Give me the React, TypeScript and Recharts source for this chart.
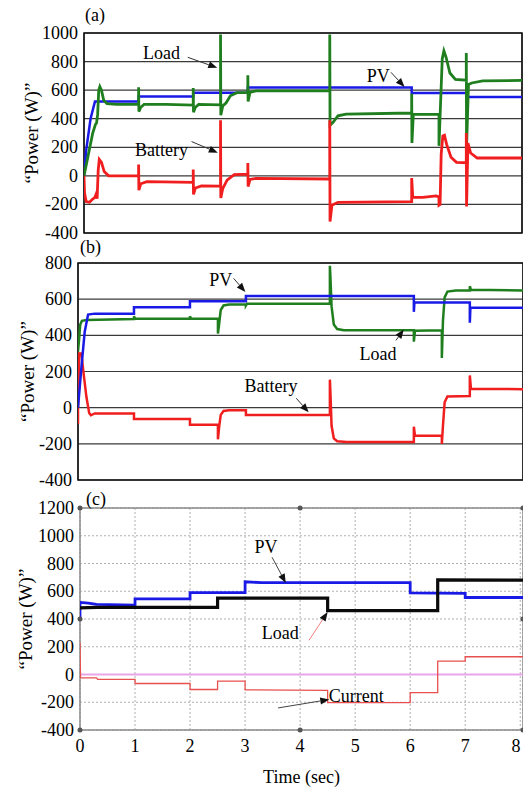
import { LineChart, Line, XAxis, YAxis, CartesianGrid, ReferenceLine, ReferenceDot, ReferenceArea } from 'recharts';

const FONT = '"Liberation Serif", "Times New Roman", serif';

type Pt = [number, number];

// ---- panel (a) ----
const pvA: Pt[] = [[0, 0], [0.04, 180], [0.12, 400], [0.2, 520], [1, 520], [1, 555], [2, 555], [2, 582], [3, 582], [3, 618], [6, 618], [6, 580], [7, 580], [7, 552], [8.02, 552]];
const loadA: Pt[] = [
  [0, 0], [0.08, 150], [0.16, 300], [0.21, 360], [0.23, 370], [0.25, 430], [0.27, 600], [0.29, 625], [0.32, 600], [0.36, 530], [0.42, 505], [0.6, 500],
  [1, 500], [1, 620], [1.005, 450], [1.04, 480], [1.1, 500], [1.5, 500],
  [2, 495], [2, 615], [2.005, 445], [2.04, 480], [2.1, 500],
  [2.5, 497], [2.5, 990], [2.505, 425], [2.54, 490], [2.6, 510], [2.68, 560], [2.8, 582],
  [3, 585], [3, 705], [3.005, 520], [3.04, 585], [3.15, 595],
  [4.5, 595], [4.5, 990], [4.505, 355], [4.56, 375], [4.65, 420], [4.8, 432],
  [6, 440], [6, 575], [6.005, 230], [6.03, 430],
  [6.5, 432], [6.5, 210], [6.53, 520], [6.56, 820], [6.59, 875], [6.63, 830], [6.7, 720], [6.8, 675],
  [7, 670], [7, 860], [7.005, 205], [7.04, 640], [7.1, 650], [7.3, 665], [8.02, 668],
];
const batteryA: Pt[] = [
  [0, 0], [0.01, -120], [0.04, -180], [0.1, -185], [0.15, -165], [0.2, -150], [0.22, -130], [0.24, -160], [0.26, 40], [0.28, 115], [0.32, 95], [0.37, 30], [0.45, 0],
  [1, 0], [1, 80], [1.005, -100], [1.04, -55], [1.15, -40],
  [2, -45], [2, 45], [2.005, -130], [2.04, -85], [2.15, -70],
  [2.5, -72], [2.5, 390], [2.505, -155], [2.54, -90], [2.62, -30], [2.75, 8],
  [3, 12], [3, 90], [3.005, -75], [3.04, -25], [3.15, -18],
  [4.5, -22], [4.5, 390], [4.505, -320], [4.54, -205], [4.65, -185],
  [6, -180], [6, -15], [6.02, -150], [6.2, -150], [6.45, -140],
  [6.5, -148], [6.5, -205], [6.52, -200], [6.54, 150], [6.57, 280], [6.6, 285], [6.64, 220], [6.72, 130], [6.82, 95],
  [7, 92], [7, 300], [7.005, -215], [7.03, 230], [7.08, 160], [7.2, 125], [8.02, 125],
];

// ---- panel (b) ----
const pvB: Pt[] = [[0, 0], [0.06, 220], [0.12, 420], [0.18, 515], [0.3, 520], [1, 520], [1, 555], [2, 555], [2, 588], [3, 588], [3, 618], [6, 618], [6, 530], [6.01, 582], [7, 582], [7, 470], [7.01, 552], [7.95, 552]];
const loadB: Pt[] = [
  [0, 310], [0.02, 380], [0.04, 460], [0.07, 480], [0.15, 485], [1, 490], [1, 505], [1.02, 492], [2, 492], [2, 505], [2.02, 492],
  [2.5, 492], [2.5, 410], [2.52, 460], [2.55, 540], [2.6, 565], [2.7, 570], [3, 572], [3, 565], [3.02, 575],
  [4.5, 575], [4.5, 785], [4.51, 720], [4.53, 560], [4.57, 460], [4.63, 435], [4.75, 428],
  [6, 428], [6, 365], [6.02, 425], [6.5, 428], [6.5, 275], [6.52, 480], [6.55, 610], [6.6, 642], [6.75, 648],
  [7, 648], [7, 672], [7.02, 652], [7.95, 648],
];
const batteryB: Pt[] = [
  [0, -90], [0, 0], [0.02, 300], [0.06, 300], [0.1, 190], [0.15, 60], [0.2, -30], [0.23, -42], [0.3, -32],
  [1, -32], [1, -62], [2, -62], [2, -95], [2.5, -95], [2.5, -175], [2.52, -110], [2.55, -40], [2.6, -18], [2.7, -14],
  [3, -14], [3, -40], [4.5, -40], [4.5, 155], [4.51, 80], [4.53, -100], [4.57, -170], [4.63, -186], [4.8, -190],
  [6, -190], [6, -105], [6.02, -155], [6.5, -155], [6.5, -200], [6.52, -100], [6.55, 30], [6.6, 62],
  [7, 65], [7, 178], [7.02, 105], [7.95, 102],
];

// ---- panel (c) ----
const pvC: Pt[] = [[0, 400], [0, 520], [0.15, 515], [0.3, 505], [1, 500], [1, 545], [2, 545], [2, 590], [3, 590], [3, 668], [3.3, 662], [6, 662], [6, 588], [7, 585], [7, 555], [8.05, 555]];
const loadC: Pt[] = [[0, 480], [0.3, 484], [2.5, 484], [2.5, 550], [4.5, 550], [4.5, 460], [6.5, 460], [6.5, 682], [8.05, 680]];
const currentC: Pt[] = [
  [0, 230], [0.01, -25], [0.3, -25], [0.32, -35], [1, -35], [1, -65], [2, -65], [2, -108], [2.5, -108], [2.5, -48],
  [3, -48], [3, -110], [4.5, -115], [4.5, -203], [6, -203], [6, -131], [6.5, -131], [6.5, 97], [7, 97], [7, 128], [8.05, 128],
];

const timeTicks = [0, 1, 2, 3, 4, 5, 6, 7, 8];
const ticksA = [-400, -200, 0, 200, 400, 600, 800, 1000];
const ticksB = [-400, -200, 0, 200, 400, 600, 800];
const ticksC = [-400, -200, 0, 200, 400, 600, 800, 1000, 1200];

// annotation text [label, t, value] and arrows [t1, v1, t2, v2]
const notesA: [string, number, number][] = [['Load', 1.42, 862], ['Battery', 1.42, 178], ['PV', 5.39, 697]];
const arrowsA: [number, number, number, number][] = [[1.9, 830, 2.44, 756], [1.97, 240, 2.45, 162], [5.62, 725, 5.87, 622]];
const notesB: [string, number, number][] = [['PV', 2.55, 706], ['Load', 5.36, 295], ['Battery', 3.45, 118]];
const arrowsB: [number, number, number, number][] = [[2.78, 715, 2.99, 640], [5.68, 372, 5.82, 432], [3.9, 52, 4.12, -26]];
const notesC: [string, number, number][] = [['PV', 3.38, 919], ['Load', 3.64, 299], ['Current', 5.02, -155]];
const arrowsC: [number, number, number, number][] = [[3.49, 845, 3.74, 660], [4.16, 246, 4.5, 450], [3.6, -241, 4.53, -180]];
const frameDotsC: Pt[] = [[0, 1200], [4, 1200], [8.05, 1200], [0, 400], [8.05, 400], [0, -400], [4, -400], [8.05, -400]];

const toData = (arr: Pt[]) => arr.map(([t, v]) => ({ t, v }));

const arrowShape = (lineColor: string) => (p: any) => {
  const { x1, y1, x2, y2 } = p;
  const a = Math.atan2(y2 - y1, x2 - x1);
  const L = 9, W = 3.5;
  const bx = x2 - L * Math.cos(a);
  const by = y2 - L * Math.sin(a);
  const pts = `${x2},${y2} ${bx - W * Math.sin(a)},${by + W * Math.cos(a)} ${bx + W * Math.sin(a)},${by - W * Math.cos(a)}`;
  return (
    <g>
      <line x1={x1} y1={y1} x2={bx} y2={by} stroke={lineColor} strokeWidth={1} />
      <polygon points={pts} fill="#111" />
    </g>
  );
};

const noteShape = (text: string) => (p: any) => (
  <text x={p.cx} y={p.cy} textAnchor="middle" dominantBaseline="central" fontSize={18} fontFamily={FONT} fill="#000">
    {text}
  </text>
);

const YTick = (p: any) => (
  <text x={p.x} y={p.y} textAnchor="end" dominantBaseline="central" fontSize={18} fontFamily={FONT} fill="#000">
    {p.payload.value}
  </text>
);

// keep the last label inside the picture
const XTick = (p: any) => (
  <text x={Math.min(p.x, 516)} y={p.y} dy="0.72em" textAnchor="middle" fontSize={18} fontFamily={FONT} fill="#000">
    {p.payload.value}
  </text>
);

interface Series { data: Pt[]; color: string; width: number; }

interface PanelProps {
  height: number;
  margin: { top: number; right: number; bottom: number; left: number };
  yWidth: number;
  xMax: number;
  yTicks: number[];
  series: Series[];
  notes: [string, number, number][];
  arrows: [number, number, number, number][];
  labelX: number;
  dotted?: boolean;
  showTime?: boolean;
  arrowColors?: string[];
}

function Panel({ height, margin, yWidth, xMax, yTicks, series, notes, arrows, labelX, dotted, showTime, arrowColors }: PanelProps) {
  const yMin = yTicks[0];
  const yMax = yTicks[yTicks.length - 1];
  return (
    <LineChart width={523} height={height} margin={margin} style={{ overflow: 'visible' }}>
      <CartesianGrid
        stroke={dotted ? '#b0b0b0' : '#3a3a3a'}
        strokeWidth={dotted ? 1 : 1.2}
        strokeDasharray={dotted ? '2 2' : undefined}
      />
      <XAxis
        type="number"
        dataKey="t"
        domain={[0, xMax]}
        ticks={timeTicks.filter((t) => t <= xMax)}
        allowDataOverflow
        interval={0}
        tick={showTime ? XTick : false}
        tickLine={false}
        axisLine={false}
        tickSize={0}
        tickMargin={9}
        height={showTime ? 55 : 0}
        label={showTime ? { value: 'Time (sec)', position: 'insideBottom', offset: 2, fontSize: 18, fill: '#000', fontFamily: FONT } : undefined}
      />
      <YAxis
        type="number"
        domain={[yMin, yMax]}
        ticks={yTicks}
        allowDataOverflow
        interval={0}
        width={yWidth}
        tick={YTick}
        tickLine={false}
        axisLine={false}
        tickSize={0}
        tickMargin={6}
        label={{ value: '\u201CPower (W)\u201D', angle: -90, position: 'insideLeft', offset: labelX, fontSize: 19, fill: '#000', fontFamily: FONT, style: { textAnchor: 'middle' } }}
      />
      {dotted && <ReferenceLine y={0} stroke="#e8a6e8" strokeWidth={2} />}
      {series.map((s, i) => (
        <Line
          key={i}
          data={toData(s.data)}
          dataKey="v"
          type="linear"
          stroke={s.color}
          strokeWidth={s.width}
          dot={false}
          activeDot={false}
          isAnimationActive={false}
        />
      ))}
      <ReferenceArea
        x1={0}
        x2={xMax}
        y1={yMin}
        y2={yMax}
        fill="none"
        stroke={dotted ? '#8a8a8a' : '#111'}
        strokeWidth={1.5}
        ifOverflow="visible"
      />
      {dotted && frameDotsC.map(([t, v], i) => (
        <ReferenceDot key={`fd${i}`} x={t} y={v} r={2.5} fill="#555" stroke="none" ifOverflow="visible" />
      ))}
      {arrows.map(([t1, v1, t2, v2], i) => (
        <ReferenceLine
          key={`a${i}`}
          segment={[{ x: t1, y: v1 }, { x: t2, y: v2 }]}
          shape={arrowShape(arrowColors ? arrowColors[i] : '#333')}
        />
      ))}
      {notes.map(([text, t, v], i) => (
        <ReferenceDot key={`n${i}`} x={t} y={v} r={0} shape={noteShape(text)} />
      ))}
    </LineChart>
  );
}

const titleStyle = { position: 'absolute' as const, fontSize: 18, lineHeight: '18px', fontFamily: FONT, color: '#000' };

export default function App() {
  return (
    <div style={{ position: 'absolute', left: 0, top: 0, width: 523, height: 790, background: '#fff', fontFamily: FONT, overflow: 'hidden' }}>
      <div style={{ position: 'absolute', left: 0, top: 0 }}>
        <Panel
          height={250}
          margin={{ top: 33, right: 1, bottom: 17, left: 0 }}
          yWidth={84}
          xMax={8.02}
          yTicks={ticksA}
          series={[
            { data: pvA, color: '#1a1ae6', width: 2.5 },
            { data: loadA, color: '#1f7f1f', width: 2.8 },
            { data: batteryA, color: '#f01e1e', width: 2.8 },
          ]}
          notes={notesA}
          arrows={arrowsA}
          labelX={31}
        />
      </div>
      <div style={{ position: 'absolute', left: 0, top: 240 }}>
        <Panel
          height={250}
          margin={{ top: 23, right: 0, bottom: 10, left: 0 }}
          yWidth={78}
          xMax={7.95}
          yTicks={ticksB}
          series={[
            { data: loadB, color: '#1f7f1f', width: 2.5 },
            { data: batteryB, color: '#f01e1e', width: 2.5 },
            { data: pvB, color: '#1a1ae6', width: 2.5 },
          ]}
          notes={notesB}
          arrows={arrowsB}
          labelX={27}
        />
      </div>
      <div style={{ position: 'absolute', left: 0, top: 490 }}>
        <Panel
          height={300}
          margin={{ top: 18, right: 0, bottom: 5, left: 0 }}
          yWidth={80}
          xMax={8.05}
          yTicks={ticksC}
          series={[
            { data: currentC, color: '#e8504f', width: 1.3 },
            { data: pvC, color: '#1a1ae6', width: 2.8 },
            { data: loadC, color: '#0a0a0a', width: 3.2 },
          ]}
          notes={notesC}
          arrows={arrowsC}
          arrowColors={['#444', '#f08080', '#444']}
          labelX={25}
          dotted
          showTime
        />
      </div>
      <div style={{ ...titleStyle, left: 85, top: 6 }}>(a)</div>
      <div style={{ ...titleStyle, left: 80, top: 238 }}>(b)</div>
      <div style={{ ...titleStyle, left: 86, top: 490 }}>(c)</div>
    </div>
  );
}
